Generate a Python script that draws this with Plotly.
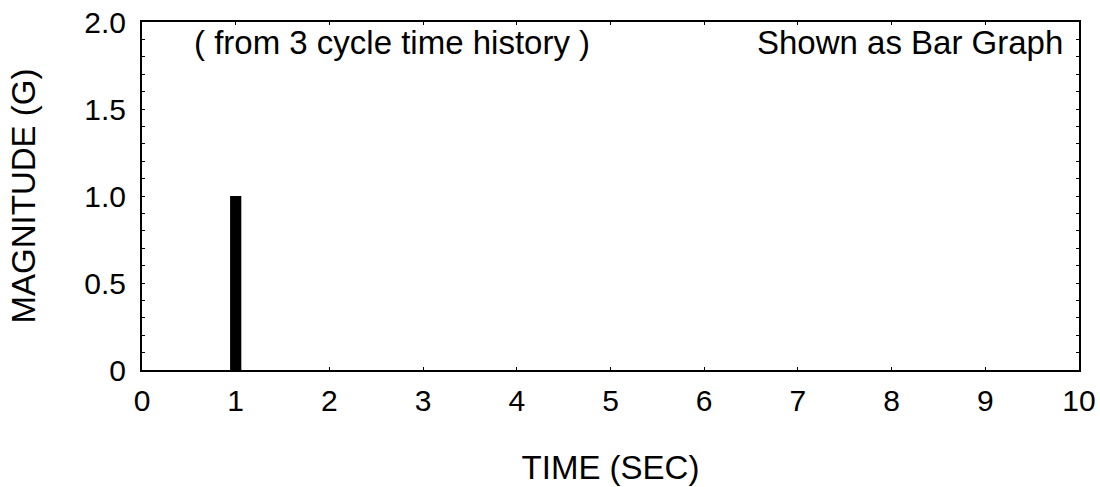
import plotly.graph_objects as go

time_sec = [1.0]
magnitude_g = [1.0]
x_ticks = [0, 1, 2, 3, 4, 5, 6, 7, 8, 9, 10]
y_tickvals = [0, 0.5, 1.0, 1.5, 2.0]
y_ticktext = ["0", "0.5", "1.0", "1.5", "2.0"]

fig = go.Figure()
fig.add_trace(go.Bar(x=time_sec, y=magnitude_g, width=0.12,
                     marker=dict(color="black", line=dict(width=0))))

fam = "Liberation Sans, Arial, sans-serif"
tick_font = dict(family=fam, size=30, color="black")
title_font = dict(family=fam, size=33, color="black")
ann_font = dict(family=fam, size=33, color="black")

fig.update_layout(
    width=1100, height=487,
    margin=dict(l=142, r=21, t=22, b=117, autoexpand=False),
    plot_bgcolor="white", paper_bgcolor="white",
    font=dict(family=fam, color="black"), showlegend=False,
    xaxis=dict(range=[0, 10], tickvals=x_ticks, ticks="inside", ticklen=3,
               tickcolor="black", showline=True, linecolor="black", linewidth=2,
               mirror="ticks", showgrid=False, zeroline=False, automargin=False,
               ticklabelstandoff=3,
               title=dict(text="TIME (SEC)", standoff=40, font=title_font),
               tickfont=tick_font),
    yaxis=dict(range=[0, 2.0], tickvals=y_tickvals, ticktext=y_ticktext,
               ticks="inside", ticklen=3, tickcolor="black",
               minor=dict(dtick=0.1, ticks="inside", ticklen=3, tickcolor="black"),
               showline=True, linecolor="black", linewidth=2, mirror="ticks",
               showgrid=False, zeroline=False, automargin=False, ticklabelstandoff=8,
               title=dict(text="MAGNITUDE (G)", standoff=39, font=title_font),
               tickfont=tick_font),
    annotations=[
        dict(text="( from 3 cycle time history )", x=0.267, y=0.9425, xref="paper", yref="paper",
             xanchor="center", yanchor="middle", showarrow=False, font=ann_font),
        dict(text="Shown as Bar Graph", x=0.985, y=0.9425, xref="paper", yref="paper",
             xanchor="right", yanchor="middle", showarrow=False, font=ann_font),
    ],
)
fig.write_html("out.html")
